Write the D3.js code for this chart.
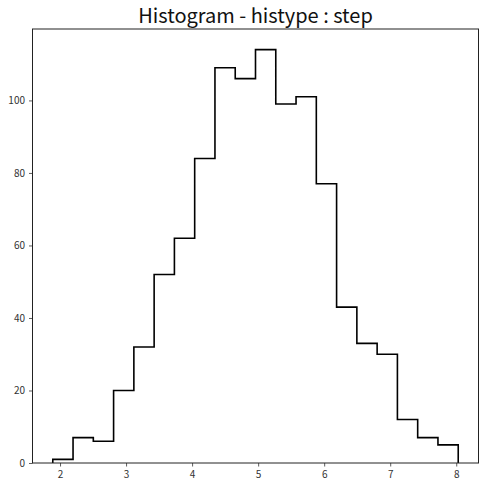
<!DOCTYPE html>
<html lang="en">
<head>
<meta charset="UTF-8">
<title>Histogram - histype : step</title>
<style>
    body { margin: 0; background: #fff; }
    #chart { width: 485px; height: 486px; }
    .tick text { font-family: "Noto Sans CJK KR", "Noto Sans", sans-serif; font-size: 10px; fill: #333; }
</style>
</head>
<body>
<div id="chart"></div>
<script src="https://d3js.org/d3.v7.min.js"></script>
<script>
    // bin edges of the histogram (20 bins)
    const binStart = 1.89
    const binEnd = 8.03
    const counts = [1, 7, 6, 20, 32, 52, 62, 84, 109, 106, 114, 99, 101, 77, 43, 33, 30, 12, 7, 5]
    const xTicks = [2, 3, 4, 5, 6, 7, 8]
    const yTicks = [0, 20, 40, 60, 80, 100]
    const title = 'Histogram - histype : step'

    const width = 485
    const height = 486
    const margin = { top: 29, right: 6.5, bottom: 23, left: 32.5 }

    const binWidth = (binEnd - binStart) / counts.length
    const bins = counts.map((c, i) => ({ x0: binStart + i * binWidth, x1: binStart + (i + 1) * binWidth, count: c }))

    const pad = (binEnd - binStart) * 0.05
    const x = d3.scaleLinear()
        .domain([binStart - pad, binEnd + pad])
        .range([margin.left, width - margin.right])
    const y = d3.scaleLinear()
        .domain([0, d3.max(counts) * 1.05])
        .range([height - margin.bottom, margin.top])

    const svg = d3.select('#chart').append('svg')
        .attr('width', width)
        .attr('height', height)

    // step outline
    const pts = [[bins[0].x0, 0]]
    bins.forEach(b => {
        pts.push([b.x0, b.count])
        pts.push([b.x1, b.count])
    })
    pts.push([bins[bins.length - 1].x1, 0])

    const line = d3.line().x(d => x(d[0])).y(d => y(d[1]))
    svg.append('path')
        .attr('d', line(pts))
        .attr('fill', 'none')
        .attr('stroke', '#000')
        .attr('stroke-width', 1.6)

    // axes
    const xAxis = svg.append('g')
        .attr('transform', `translate(0, ${height - margin.bottom})`)
        .call(d3.axisBottom(x).tickValues(xTicks).tickSize(3.5).tickPadding(4).tickFormat(d3.format('d')))
    const yAxis = svg.append('g')
        .attr('transform', `translate(${margin.left}, 0)`)
        .call(d3.axisLeft(y).tickValues(yTicks).tickSize(3.5).tickPadding(4).tickFormat(d3.format('d')))
    ;[xAxis, yAxis].forEach(a => {
        a.select('.domain').remove()
        a.selectAll('.tick line').attr('stroke', '#333').attr('stroke-width', 0.8)
    })

    // frame
    svg.append('rect')
        .attr('x', margin.left)
        .attr('y', margin.top)
        .attr('width', width - margin.left - margin.right)
        .attr('height', height - margin.top - margin.bottom)
        .attr('fill', 'none')
        .attr('stroke', '#222')
        .attr('stroke-width', 1)

    svg.append('text')
        .attr('x', (margin.left + width - margin.right) / 2)
        .attr('y', 23)
        .attr('text-anchor', 'middle')
        .style('font-family', '"Noto Sans CJK KR", "Noto Sans", sans-serif')
        .style('font-size', '20px')
        .attr('fill', '#111')
        .text(title)
</script>
</body>
</html>
